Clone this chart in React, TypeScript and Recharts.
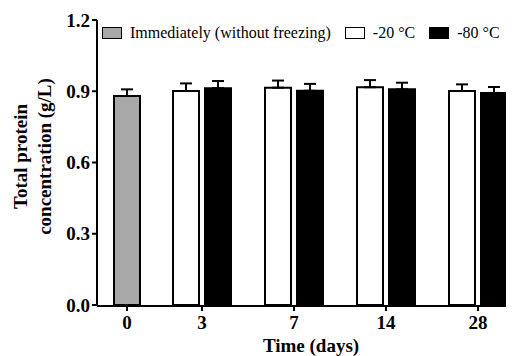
import React from 'react';
import { BarChart, Bar, XAxis, YAxis, ErrorBar, Legend } from 'recharts';

const days = ['0', '3', '7', '14', '28'];
const immediate = [0.88, null, null, null, null];
const immediateSd = [0.028, null, null, null, null];
const minus20 = [null, 0.901, 0.915, 0.917, 0.901];
const minus20Sd = [null, 0.032, 0.03, 0.03, 0.028];
const minus80 = [null, 0.913, 0.902, 0.908, 0.893];
const minus80Sd = [null, 0.03, 0.029, 0.028, 0.025];
const yTicks = [0, 0.3, 0.6, 0.9, 1.2];

const data = days.map((day, i) => ({
  day,
  immediate: immediate[i],
  immediateErr: immediateSd[i] == null ? null : [0, immediateSd[i]],
  minus20: minus20[i],
  minus20Err: minus20Sd[i] == null ? null : [0, minus20Sd[i]],
  minus80: minus80[i],
  minus80Err: minus80Sd[i] == null ? null : [0, minus80Sd[i]],
}));

const FONT = '"Liberation Serif", serif';
const tickStyle = { fill: '#000', fontSize: 19, fontWeight: 'bold' as const, fontFamily: FONT };

const YTitle = (props: any) => {
  const { viewBox } = props;
  const cy = viewBox.y + viewBox.height / 2 - 6;
  const x1 = viewBox.x + 19;
  const x2 = viewBox.x + 43;
  const style = { fontSize: 19, fontWeight: 'bold' as const, fontFamily: FONT };
  return (
    <g>
      <text x={x1} y={cy} transform={`rotate(-90, ${x1}, ${cy})`} textAnchor="middle" fill="#000" style={style}>
        Total protein
      </text>
      <text x={x2} y={cy} transform={`rotate(-90, ${x2}, ${cy})`} textAnchor="middle" fill="#000" style={style}>
        concentration (g/L)
      </text>
    </g>
  );
};

const XTitle = (props: any) => {
  const { viewBox } = props;
  return (
    <text
      x={viewBox.x + viewBox.width / 2 + 5.5}
      y={viewBox.y + 46}
      textAnchor="middle"
      fill="#000"
      style={{ fontSize: 19, fontWeight: 'bold', fontFamily: FONT }}
    >
      Time (days)
    </text>
  );
};

const LegendContent = (props: any) => {
  const { payload } = props;
  return (
    <div style={{ display: 'flex', alignItems: 'center', fontFamily: FONT, fontSize: 16, color: '#000', whiteSpace: 'nowrap' }}>
      {(payload || []).map((entry: any, i: number) => (
        <div key={`item-${i}`} style={{ display: 'flex', alignItems: 'center', marginRight: 14 }}>
          <span
            style={{
              display: 'inline-block',
              width: 18,
              height: 10,
              background: entry.color,
              border: '1.5px solid #000',
              marginRight: 8,
            }}
          />
          <span>{entry.value}</span>
        </div>
      ))}
    </div>
  );
};

export default function App() {
  return (
    <BarChart
      width={506}
      height={348}
      data={data}
      margin={{ top: 12, right: 0, bottom: 0, left: 0 }}
      barGap={6}
    >
      <XAxis
        xAxisId="g"
        dataKey="day"
        ticks={['0']}
        height={1}
        padding={{ left: -16, right: -27 }}
        axisLine={false}
        tickLine={{ stroke: '#000', strokeWidth: 2 }}
        tickSize={6}
        tickMargin={5}
        tick={tickStyle}
      />
      <XAxis
        xAxisId="m"
        dataKey="day"
        ticks={['3', '7', '14', '28']}
        height={50}
        padding={{ left: -33, right: -10 }}
        axisLine={{ stroke: '#000', strokeWidth: 2 }}
        tickLine={{ stroke: '#000', strokeWidth: 2 }}
        tickSize={5}
        tickMargin={5}
        tick={tickStyle}
        label={<XTitle />}
      />
      <YAxis
        width={89}
        domain={[0, 1.2]}
        ticks={yTicks}
        tickFormatter={(v: number) => v.toFixed(1)}
        axisLine={{ stroke: '#000', strokeWidth: 2 }}
        tickLine={{ stroke: '#000', strokeWidth: 2 }}
        tickSize={5}
        tickMargin={2}
        tick={tickStyle}
        label={<YTitle />}
      />
      <Legend
        verticalAlign="middle"
        align="center"
        layout="horizontal"
        itemSorter="dataKey"
        wrapperStyle={{ top: 16, left: 94, width: 420, height: 17 }}
        content={<LegendContent />}
      />
      <Bar xAxisId="g" dataKey="immediate" name="Immediately (without freezing)" fill="#A8A8A8" stroke="#000" strokeWidth={2} barSize={26} isAnimationActive={false}>
        <ErrorBar dataKey="immediateErr" width={6} stroke="#000" strokeWidth={2} direction="y" />
      </Bar>
      <Bar xAxisId="m" dataKey="minus20" name="-20 °C" fill="#FFFFFF" stroke="#000" strokeWidth={2} barSize={26} isAnimationActive={false}>
        <ErrorBar dataKey="minus20Err" width={6} stroke="#000" strokeWidth={2} direction="y" />
      </Bar>
      <Bar xAxisId="m" dataKey="minus80" name="-80 °C" fill="#000000" stroke="#000" strokeWidth={2} barSize={26} isAnimationActive={false}>
        <ErrorBar dataKey="minus80Err" width={6} stroke="#000" strokeWidth={2} direction="y" />
      </Bar>
    </BarChart>
  );
}
